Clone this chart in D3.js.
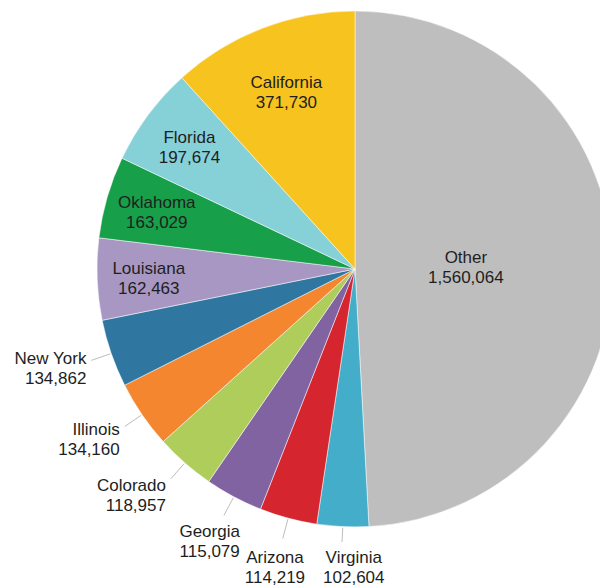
<!DOCTYPE html>
<html>
<head>
<meta charset="utf-8">
<script src="https://cdn.jsdelivr.net/npm/d3@7"></script>
<style>
  body { margin: 0; background: #fff; }
  svg { display: block; font-family: "Liberation Sans", Arial, Helvetica, sans-serif; }
  text { fill: #1e1e1e; font-size: 17px; }
</style>
</head>
<body>
<script>
'use strict';

var states = ['Other', 'Virginia', 'Arizona', 'Georgia', 'Colorado', 'Illinois',
              'New York', 'Louisiana', 'Oklahoma', 'Florida', 'California'];
var counts = [1560064, 102604, 114219, 115079, 118957, 134160,
              134862, 162463, 163029, 197674, 371730];
var colors = ['#bebebe', '#44adc9', '#d5262f', '#8263a2', '#aecd5b', '#f3862f',
              '#2f76a1', '#a897c3', '#189f4a', '#86d0d8', '#f7c31f'];
var outside = ['Virginia', 'Arizona', 'Georgia', 'Colorado', 'Illinois', 'New York'];

var width = 600,
    height = 587,
    cx = 355,
    cy = 269,
    radius = 258;

var fmt = d3.format(',');

var data = states.map(function(s, i) {
  return {state: s, count: counts[i]};
});

var color = d3.scaleOrdinal().domain(states).range(colors);

var svg = d3.select('body').append('svg')
    .attr('width', width)
    .attr('height', height);

var g = svg.append('g')
    .attr('transform', 'translate(' + cx + ',' + cy + ')');

var pie = d3.pie()
    .sort(null)
    .value(function(d) { return d.count; });

var arc = d3.arc()
    .innerRadius(0)
    .outerRadius(radius);

var arcs = pie(data);

g.selectAll('path')
    .data(arcs)
  .enter().append('path')
    .attr('d', arc)
    .attr('fill', function(d) { return color(d.data.state); })
    .attr('stroke', '#fff')
    .attr('stroke-width', 0.5);

function mid(d) { return (d.startAngle + d.endAngle) / 2; }

function addLabel(sel, x, y, anchor, d) {
  var t = sel.append('text')
      .attr('text-anchor', anchor);
  t.append('tspan')
      .attr('class', 'name')
      .attr('x', x)
      .attr('y', y - 3)
      .text(d.data.state);
  t.append('tspan')
      .attr('class', 'val')
      .attr('x', x)
      .attr('y', y + 17)
      .text(fmt(d.data.count));
  return t;
}

function moveLabel(t, x, y) {
  t.selectAll('tspan').attr('x', x);
  t.select('.name').attr('y', y - 3);
  t.select('.val').attr('y', y + 17);
}

// inside labels
arcs.forEach(function(d) {
  if (outside.indexOf(d.data.state) !== -1) return;
  var a = mid(d),
      span = d.endAngle - d.startAngle;
  var r = span > Math.PI / 2 ? radius * 0.43 : (span > 0.6 ? radius * 0.74 : radius * 0.80);
  addLabel(g, Math.sin(a) * r, -Math.cos(a) * r, 'middle', d);
});

// outside labels with leader lines
var bottom = [];
arcs.forEach(function(d) {
  if (outside.indexOf(d.data.state) === -1) return;
  var a = mid(d),
      ux = Math.sin(a),
      uy = -Math.cos(a);
  var r1 = radius + 1,
      r2 = radius + 21;
  var ex = ux * r2,
      ey = uy * r2;

  var line = g.append('line')
      .attr('x1', ux * r1).attr('y1', uy * r1)
      .attr('stroke', '#bdbdbd')
      .attr('stroke-width', 1);

  if (Math.abs(ux) > 0.6) {
    addLabel(g, ex - 5, ey + uy * 20, 'end', d);
  } else {
    var t = addLabel(g, 0, 0, 'middle', d);
    var w = t.node().getBBox().width;
    var x = ex + ux * w / 2,
        y = ey + uy * 28;
    // keep the value line inside the picture
    var maxY = height - cy - 4 - 17;
    if (y > maxY) {
      y = maxY;
      var rr = (y - 24) / uy;
      ex = ux * rr;
      ey = uy * rr;
    }
    moveLabel(t, x, y);
    bottom.push({t: t, x: x, y: y, w: w});
  }
  line.attr('x2', ex).attr('y2', ey);
});

// nudge bottom labels apart, left to right
bottom.sort(function(a, b) { return a.x - b.x; });
for (var i = 1; i < bottom.length; i++) {
  var p = bottom[i - 1], q = bottom[i];
  var vOverlap = 40 - Math.abs(q.y - p.y);
  var gap = (q.x - q.w / 2) - (p.x + p.w / 2);
  if (vOverlap > 20 && gap < 18) {
    q.x += 18 - gap;
    moveLabel(q.t, q.x, q.y);
  }
}
</script>
</body>
</html>
